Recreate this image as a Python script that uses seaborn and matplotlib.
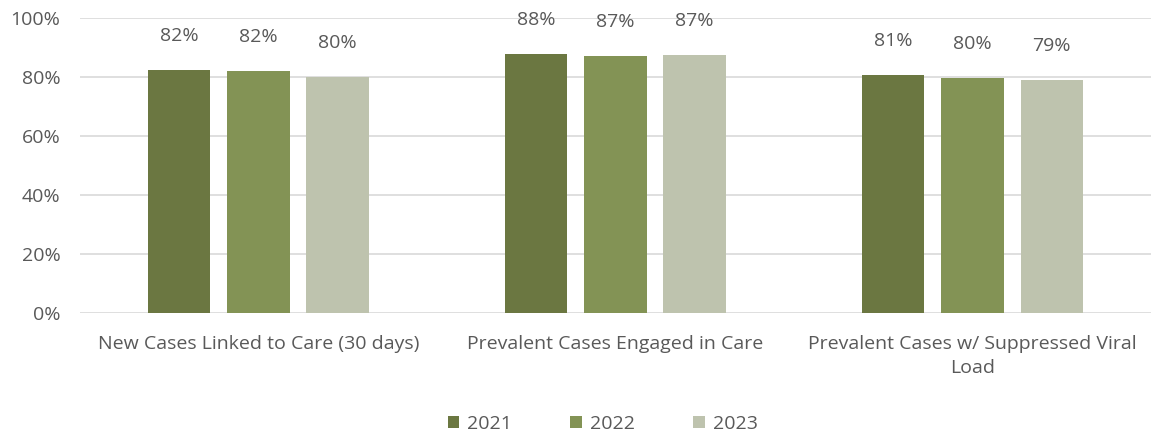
import matplotlib
matplotlib.use("Agg")
import matplotlib.pyplot as plt
import seaborn as sns
import pandas as pd

categories = ["New Cases Linked to Care (30 days)", "Prevalent Cases Engaged in Care",
              "Prevalent Cases w/ Suppressed Viral\nLoad"]
years = ["2021", "2022", "2023"]
values_2021 = [82.3, 87.8, 80.7]
values_2022 = [82.0, 87.0, 79.7]
values_2023 = [80.0, 87.5, 79.0]
labels_2021 = ["82%", "88%", "81%"]
labels_2022 = ["82%", "87%", "80%"]
labels_2023 = ["80%", "87%", "79%"]
colors = ["#6B7741", "#839355", "#BEC3AE"]

rows = []
for yr, vals in zip(years, [values_2021, values_2022, values_2023]):
    for c, v in zip(categories, vals):
        rows.append({"category": c, "year": yr, "value": v})
df = pd.DataFrame(rows)

sns.set_theme(style="white")
plt.rcParams['font.family'] = ['Open Sans', 'DejaVu Sans']
text_color = "#595959"
fs = 14

fig = plt.figure(figsize=(11.51, 4.34), dpi=100)
ax = fig.add_axes([0.0695, 0.279, 0.9305, 0.68])
sns.barplot(data=df, x="category", y="value", hue="year", palette=colors,
            width=0.664, gap=0.215, ax=ax, saturation=1, legend=True,
            linewidth=0)

ax.set_ylim(0, 100)
ax.set_yticks([0, 20, 40, 60, 80, 100])
ax.set_yticklabels([f"{t}%" for t in [0, 20, 40, 60, 80, 100]])
ax.yaxis.grid(True, color="#D9D9D9", linewidth=1.2)
ax.set_axisbelow(True)
for s in ax.spines.values():
    s.set_visible(False)
ax.set_xlabel("")
ax.set_ylabel("")
ax.tick_params(axis="both", length=0, labelsize=fs, colors=text_color)
ax.tick_params(axis="x", pad=16)
ax.tick_params(axis="y", pad=14)
for t in ax.get_xticklabels():
    t.set_linespacing(1.45)

all_labels = [labels_2021, labels_2022, labels_2023]
for cont, labs in zip(ax.containers, all_labels):
    ax.bar_label(cont, labels=labs, padding=18, fontsize=fs, color=text_color)

handles, lbls = ax.get_legend_handles_labels()
ax.legend(handles, lbls, loc="center", bbox_to_anchor=(0.488, -0.375), ncol=3,
          frameon=False, fontsize=fs, labelcolor=text_color, handlelength=0.6,
          handleheight=0.6, columnspacing=3.0, handletextpad=0.4)

fig.savefig("out.png", dpi=100)
